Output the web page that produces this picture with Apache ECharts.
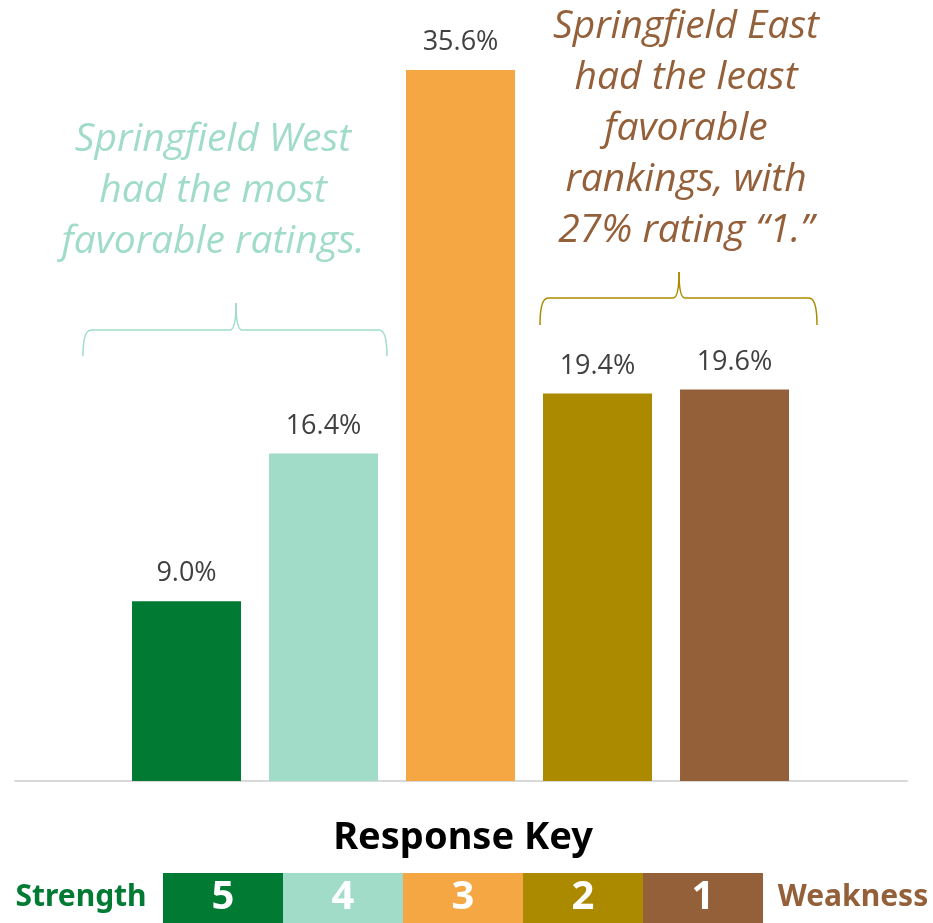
<!DOCTYPE html>
<html><head><meta charset="utf-8">
<script src="https://cdn.jsdelivr.net/npm/echarts@6/dist/echarts.min.js"></script>
<style>html,body{margin:0;padding:0;background:#fff}#c{width:933px;height:923px}</style>
</head><body><div id="c"></div>
<script>
var categories = ['5', '4', '3', '2', '1'];
var values = [9.0, 16.4, 35.6, 19.4, 19.6];
var colors = ['#017a33', '#a0dcc8', '#f4a742', '#ab8a00', '#94603a'];
var keyTitle = 'Response Key';
var keyLeft = 'Strength';
var keyRight = 'Weakness';
var noteWest = 'Springfield West\nhad the most\nfavorable ratings.';
var noteEast = 'Springfield East\nhad the least\nfavorable\nrankings, with\n27% rating \u201c1.\u201d';

var chart = echarts.init(document.getElementById('c'));
function brace(x0, x1, xt, yl, yt, yb, color) {
  var st = {fill: null, stroke: color, lineWidth: 1.5};
  return [
    {type: 'bezierCurve', shape: {x1: x0, y1: yb, cpx1: x0, cpy1: yl, x2: x0 + 8, y2: yl}, style: st},
    {type: 'line', shape: {x1: x0 + 8, y1: yl, x2: xt - 6, y2: yl}, style: st},
    {type: 'bezierCurve', shape: {x1: xt - 6, y1: yl, cpx1: xt, cpy1: yl, x2: xt, y2: yt}, style: st},
    {type: 'bezierCurve', shape: {x1: xt, y1: yt, cpx1: xt, cpy1: yl, x2: xt + 6, y2: yl}, style: st},
    {type: 'line', shape: {x1: xt + 6, y1: yl, x2: x1 - 8, y2: yl}, style: st},
    {type: 'bezierCurve', shape: {x1: x1 - 8, y1: yl, cpx1: x1, cpy1: yl, x2: x1, y2: yb}, style: st}
  ];
}
var graphics = [
  {type: 'text', x: 463, y: 838, style: {text: keyTitle, font: 'bold 38px "Noto Sans"', fill: '#000', textAlign: 'center', textVerticalAlign: 'middle'}},
  {type: 'text', x: 81, y: 897, style: {text: keyLeft, font: 'bold 30px "Noto Sans"', fill: colors[0], textAlign: 'center', textVerticalAlign: 'middle'}},
  {type: 'text', x: 853, y: 897, style: {text: keyRight, font: 'bold 30px "Noto Sans"', fill: colors[4], textAlign: 'center', textVerticalAlign: 'middle'}},
  {type: 'text', x: 213, y: 114, style: {text: noteWest, font: 'italic 39px "Open Sans"', fill: colors[1], textAlign: 'center', lineHeight: 51}},
  {type: 'text', x: 686, y: 1, style: {text: noteEast, font: 'italic 39px "Open Sans"', fill: colors[4], textAlign: 'center', lineHeight: 51}}
].concat(brace(83, 387, 236, 330, 303, 356, colors[1]), brace(540, 817, 679, 298, 272, 325, colors[3]));
categories.forEach(function (c, i) {
  graphics.push({type: 'rect', shape: {x: 163 + 120 * i, y: 873, width: 120, height: 50}, style: {fill: colors[i]}});
  graphics.push({type: 'text', x: 223 + 120 * i, y: 898, style: {text: c, font: 'bold 40px "Noto Sans"', fill: '#fff', textAlign: 'center', textVerticalAlign: 'middle'}});
});

chart.setOption({
  animation: false,
  grid: {left: 15, right: 26, top: 22, bottom: 142},
  xAxis: {type: 'value', min: -1.252, max: 5.259, axisLine: {show: true, onZero: false, lineStyle: {color: '#d9d9d9', width: 2}},
    axisTick: {show: false}, axisLabel: {show: false}, splitLine: {show: false}},
  yAxis: {type: 'value', min: 0, max: 38, show: false, splitLine: {show: false}},
  series: [{
    type: 'bar', barWidth: 109,
    data: values.map(function (v, i) { return {value: [i, v], itemStyle: {color: colors[i]}}; }),
    label: {show: true, position: 'top', distance: 14, color: '#404040', fontFamily: 'Open Sans', fontSize: 27,
      formatter: function (p) { return p.value[1].toFixed(1) + '%'; }}
  }],
  graphic: graphics
});
</script></body></html>
